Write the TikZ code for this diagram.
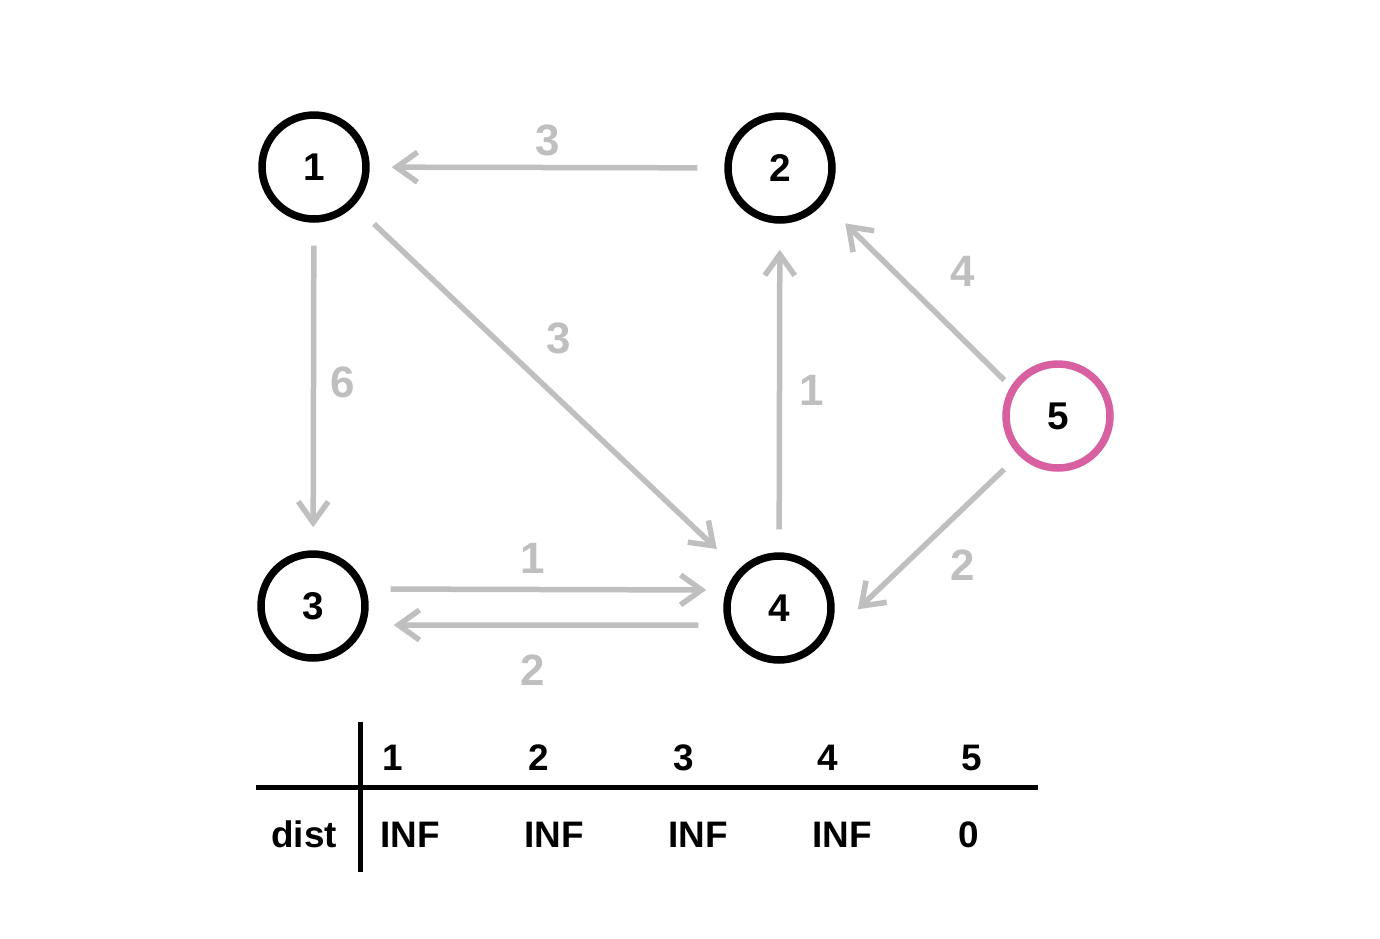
\documentclass[tikz,border=0pt]{standalone}
\usepackage{fontspec}
\setmainfont{Liberation Sans}
\usetikzlibrary{arrows.meta}

\definecolor{edgegray}{RGB}{191,191,191}
\definecolor{sourcepink}{RGB}{217,96,160}

\tikzset{
	vertex/.style = {circle, draw = black, line width = 0.15cm, minimum size = 2.08cm, inner sep = 0pt, font = \fontsize{22}{22}\selectfont\bfseries},
	source/.style = {vertex, draw = sourcepink},
	edge/.style = {draw = edgegray, line width = 0.11cm, -{Straight Barb[length = 0.42cm, width = 0.6cm]}},
	weight/.style = {text = edgegray, font = \fontsize{25}{25}\selectfont\bfseries},
	cell/.style = {font = \fontsize{21}{21}\selectfont\bfseries},
	rule/.style = {line width = 0.1cm}
}

\begin{document}
\begin{tikzpicture}[x = 0.02cm, y = -0.02cm]
	
		\useasboundingbox (0, 0) rectangle (1380, 938);
		
		\node[vertex] (n1) at (314, 167) {1};
		\node[vertex] (n2) at (780, 168) {2};
		\node[vertex] (n3) at (313, 606) {3};
		\node[vertex] (n4) at (779, 608) {4};
		\node[source] (n5) at (1058, 416) {5};
		
		\draw[edge, shorten <= 0.54cm, shorten >= 0.44cm] (n2) -- (n1);
		\draw[edge, shorten <= 0.46cm, shorten >= 0.46cm] (n1) -- (n3);
		\draw[edge, shorten <= 0.54cm, shorten >= 0.6cm] (n1) -- (n4);
		\draw[edge, shorten <= 0.46cm, shorten >= 0.52cm] (n4) -- (n2);
		\draw[edge, shorten <= 0.18cm, shorten >= 0.6cm] (n5.148) -- (n2.-38);
		\draw[edge, shorten <= 0.4cm, shorten >= 1.0cm] (n5.-135) -- (n4.-40);
		\draw[edge, shorten <= 0.44cm, shorten >= 0.34cm] ([yshift = 0.34cm] n3.east) -- ([yshift = 0.36cm] n4.west);
		\draw[edge, shorten <= 0.5cm, shorten >= 0.5cm] ([yshift = -0.34cm] n4.west) -- ([yshift = -0.38cm] n3.east);
		
		\node[weight] (w21) at (548, 140) {3};
		\node[weight] (w13) at (343, 382) {6};
		\node[weight] (w14) at (559, 338) {3};
		\node[weight] (w42) at (812, 390) {1};
		\node[weight] (w52) at (963, 271) {4};
		\node[weight] (w54) at (963, 565) {2};
		\node[weight] (w34) at (533, 558) {1};
		\node[weight] (w43) at (533, 670) {2};
		
		\draw[rule] (360, 722) -- (360, 872);
		\draw[rule] (256, 787) -- (1038, 787);
		
		\foreach \k/\x in {1/393, 2/539, 3/684, 4/828, 5/972}
			\node[cell] (h\k) at (\x, 758) {\k};
		
		\node[cell] (dist) at (304, 834) {dist};
		\foreach \k/\x in {1/410, 2/554, 3/698, 4/842}
			\node[cell] (d\k) at (\x, 835) {INF};
		\node[cell] (d5) at (969, 835) {0};
	
	\end{tikzpicture}
\end{document}
